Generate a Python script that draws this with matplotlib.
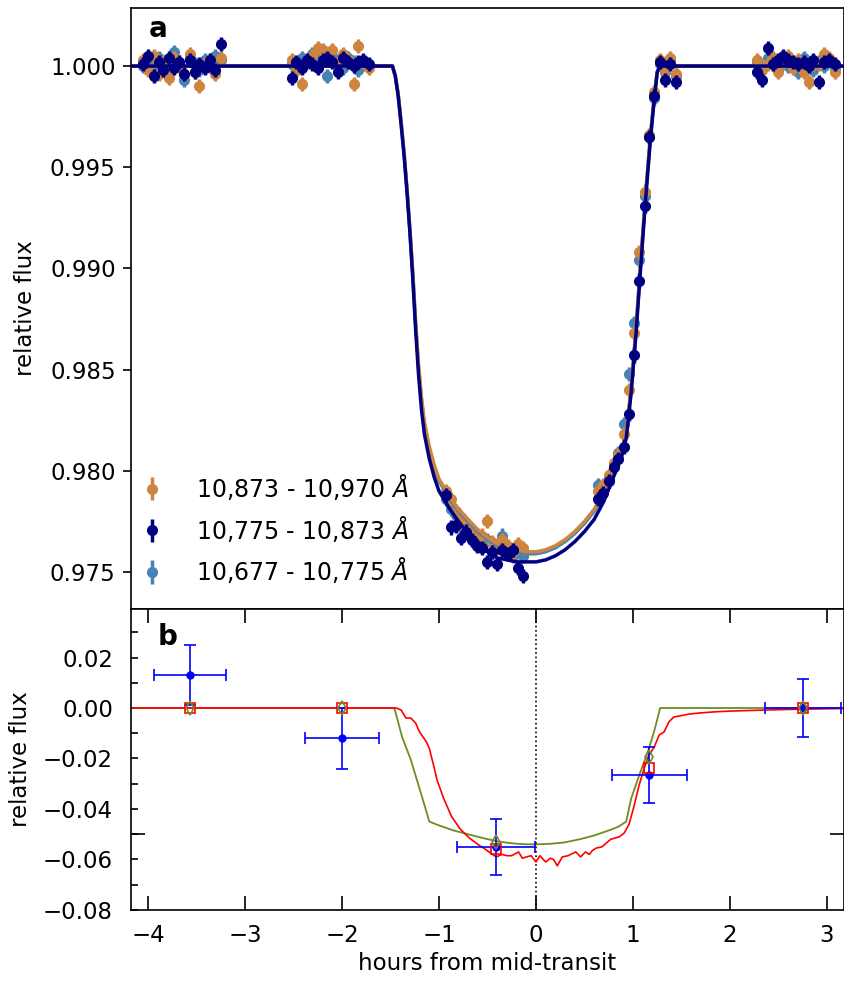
import numpy as np
import matplotlib.pyplot as plt

plt.rcParams['font.size'] = 16.5

# ---- panel a: spectroscopic light curves (5 HST orbits, 16 exposures each) ----
t_obs = [-4.05, -4.00, -3.94, -3.89, -3.84, -3.78, -3.73, -3.68, -3.63, -3.57, -3.52, -3.47, -3.41, -3.36, -3.31, -3.25,
         -2.52, -2.47, -2.41, -2.36, -2.31, -2.25, -2.20, -2.15, -2.10, -2.04, -1.99, -1.94, -1.88, -1.83, -1.78, -1.72,
         -0.93, -0.88, -0.82, -0.77, -0.72, -0.66, -0.61, -0.56, -0.51, -0.45, -0.40, -0.35, -0.29, -0.24, -0.19, -0.13,
         0.64, 0.69, 0.75, 0.80, 0.85, 0.91, 0.96, 1.01, 1.06, 1.12, 1.17, 1.22, 1.28, 1.33, 1.38, 1.44,
         2.28, 2.33, 2.39, 2.44, 2.49, 2.55, 2.60, 2.65, 2.70, 2.76, 2.81, 2.86, 2.92, 2.97, 3.02, 3.08]

flux_red = [1.0003, 0.9998, 1.0005, 0.9996, 1.0002, 0.9994, 1.0004, 1.0000, 0.9996, 1.0006, 0.9997, 0.9990, 1.0001, 1.0003, 0.9996, 1.0004,
            1.0003, 0.9998, 0.9991, 1.0002, 1.0005, 1.0009, 1.0008, 1.0004, 1.0008, 1.0001, 1.0006, 1.0003, 0.9991, 1.0010, 1.0002, 0.9999,
            0.9790, 0.9786, 0.9780, 0.9777, 0.9772, 0.9770, 0.9768, 0.9768, 0.9775, 0.9765, 0.9762, 0.9766, 0.9763, 0.9760, 0.9764, 0.9762,
            0.9790, 0.9793, 0.9798, 0.9804, 0.9808, 0.9818, 0.9840, 0.9868, 0.9908, 0.9938, 0.9966, 0.9987, 1.0003, 0.9998, 1.0004, 0.9996,
            1.0003, 0.9998, 1.0001, 1.0004, 0.9997, 1.0002, 1.0005, 0.9999, 1.0003, 0.9997, 0.9992, 1.0001, 1.0001, 1.0006, 1.0004, 0.9997]

flux_mid = [1.0001, 1.0005, 0.9995, 1.0002, 0.9998, 1.0004, 0.9999, 1.0002, 0.9996, 1.0003, 0.9997, 1.0001, 0.9999, 1.0003, 0.9998, 1.0011,
            0.9994, 1.0002, 0.9999, 1.0003, 1.0001, 0.9999, 1.0003, 1.0004, 1.0002, 0.9997, 1.0004, 1.0002, 1.0000, 1.0002, 1.0003, 1.0001,
            0.9788, 0.9772, 0.9773, 0.9767, 0.9770, 0.9766, 0.9763, 0.9762, 0.9755, 0.9760, 0.9754, 0.9761, 0.9759, 0.9761, 0.9752, 0.9748,
            0.9786, 0.9789, 0.9795, 0.9802, 0.9806, 0.9812, 0.9828, 0.9857, 0.9894, 0.9931, 0.9965, 0.9985, 1.0002, 0.9993, 1.0001, 0.9992,
            0.9997, 0.9993, 1.0009, 1.0001, 1.0003, 1.0005, 1.0003, 1.0002, 1.0001, 1.0002, 1.0000, 1.0003, 0.9992, 1.0002, 1.0003, 1.0001]

flux_blue = [1.0000, 1.0002, 0.9998, 1.0004, 1.0001, 0.9997, 1.0007, 1.0002, 0.9993, 1.0004, 1.0001, 0.9998, 1.0003, 1.0000, 1.0005, 1.0003,
             1.0001, 0.9998, 1.0004, 1.0002, 1.0006, 1.0003, 1.0003, 0.9995, 1.0005, 1.0002, 0.9999, 1.0004, 1.0002, 0.9998, 1.0001, 1.0000,
             0.9786, 0.9781, 0.9778, 0.9772, 0.9770, 0.9767, 0.9765, 0.9763, 0.9766, 0.9760, 0.9763, 0.9768, 0.9760, 0.9758, 0.9762, 0.9758,
             0.9793, 0.9791, 0.9796, 0.9803, 0.9809, 0.9823, 0.9848, 0.9873, 0.9904, 0.9936, 0.9965, 0.9984, 1.0001, 0.9997, 1.0003, 0.9995,
             1.0002, 0.9999, 1.0004, 1.0001, 0.9998, 1.0003, 1.0000, 1.0002, 0.9997, 1.0004, 1.0001, 0.9998, 1.0002, 1.0000, 1.0003, 0.9999]

flux_err = 0.00035

# best-fit transit models
t_model = [-4.18, -1.48, -1.45, -1.42, -1.39, -1.36, -1.33, -1.30, -1.27, -1.24, -1.21, -1.18, -1.15, -1.10, -1.05,
           -1.00, -0.90, -0.80, -0.70, -0.60, -0.50, -0.40, -0.30, -0.20, -0.10, 0.00, 0.10, 0.20, 0.30, 0.40,
           0.50, 0.60, 0.70, 0.80, 0.88, 0.93, 0.98, 1.03, 1.08, 1.13, 1.18, 1.22, 1.25, 1.28, 3.18]
model_mid = [1.0, 1.0, 0.9995, 0.9985, 0.9971, 0.9956, 0.9938, 0.9918, 0.9895, 0.9869, 0.9847, 0.9830, 0.9818, 0.9806, 0.9797,
             0.9790, 0.9782, 0.9775, 0.9769, 0.9764, 0.9760, 0.9757, 0.9756, 0.9755, 0.9755, 0.9755, 0.9756, 0.9758, 0.9761, 0.9765,
             0.9770, 0.9776, 0.9785, 0.9797, 0.9807, 0.9816, 0.9838, 0.9867, 0.9901, 0.9934, 0.9964, 0.9984, 0.9997, 1.0, 1.0]
model_red = [1.0, 1.0, 0.9995, 0.9986, 0.9972, 0.9957, 0.9940, 0.9920, 0.9898, 0.9873, 0.9852, 0.9836, 0.9824, 0.9812, 0.9803,
             0.9796, 0.9788, 0.9781, 0.9776, 0.9771, 0.9767, 0.9764, 0.9762, 0.9761, 0.9760, 0.9760, 0.9761, 0.9763, 0.9766, 0.9770,
             0.9775, 0.9781, 0.9790, 0.9801, 0.9810, 0.9819, 0.9841, 0.9870, 0.9904, 0.9937, 0.9966, 0.9985, 0.9997, 1.0, 1.0]
model_blue = [1.0, 1.0, 0.9995, 0.9986, 0.9972, 0.9957, 0.9939, 0.9919, 0.9897, 0.9872, 0.9851, 0.9835, 0.9823, 0.9811, 0.9802,
              0.9795, 0.9787, 0.9780, 0.9775, 0.9770, 0.9766, 0.9763, 0.9761, 0.9760, 0.9759, 0.9759, 0.9760, 0.9762, 0.9765, 0.9769,
              0.9774, 0.9780, 0.9789, 0.9800, 0.9809, 0.9818, 0.9840, 0.9869, 0.9903, 0.9936, 0.9965, 0.9985, 0.9997, 1.0, 1.0]

labels = ['10,873 - 10,970 $\\AA$', '10,775 - 10,873 $\\AA$', '10,677 - 10,775 $\\AA$']

# ---- panel b: excess absorption per orbit and models ----
orbit_t = [-3.57, -2.00, -0.41, 1.17, 2.75]
orbit_terr = [0.37, 0.385, 0.40, 0.39, 0.39]
obs_y = [0.013, -0.012, -0.055, -0.0265, 0.000]
obs_yerr = [0.012, 0.012, 0.011, 0.011, 0.0113]
binned_3d = [0.0, 0.0, -0.056, -0.0237, 0.0]
binned_1d = [0.0, 0.0, -0.053, -0.0195, 0.0]

t_3d = [-4.18, -1.44, -1.39, -1.34, -1.29, -1.24, -1.20, -1.13, -1.10, -1.06, -1.02, -0.95, -0.87, -0.78, -0.69,
        -0.60, -0.52, -0.46, -0.41, -0.35, -0.30, -0.25, -0.18, -0.14, -0.10, -0.05, 0.00, 0.04, 0.10, 0.15,
        0.18, 0.22, 0.27, 0.33, 0.41, 0.46, 0.51, 0.55, 0.58, 0.62, 0.68, 0.77, 0.86, 0.91, 0.96,
        1.01, 1.06, 1.11, 1.16, 1.22, 1.27, 1.32, 1.37, 1.42, 1.50, 1.58, 1.68, 1.85, 2.02, 2.37, 2.71, 3.18]
y_3d = [0.0, 0.0, -0.0008, -0.004, -0.004, -0.006, -0.0095, -0.0134, -0.016, -0.022, -0.0285, -0.036, -0.043, -0.048, -0.0514,
        -0.054, -0.056, -0.0577, -0.059, -0.058, -0.0585, -0.0585, -0.057, -0.0595, -0.059, -0.0585, -0.061, -0.0585, -0.061, -0.0595,
        -0.060, -0.0625, -0.059, -0.0585, -0.057, -0.059, -0.057, -0.058, -0.0565, -0.0555, -0.055, -0.052, -0.051, -0.0495, -0.046,
        -0.039, -0.031, -0.0245, -0.019, -0.0154, -0.0107, -0.0095, -0.0055, -0.0036, -0.003, -0.0024, -0.002, -0.0015, -0.0012, -0.0008, -0.0005, -0.0002]

t_1d = [-4.18, -1.46, -1.38, -1.29, -1.20, -1.13, -1.10, -1.00, -0.85, -0.70, -0.55, -0.40, -0.25, -0.10,
        0.00, 0.15, 0.30, 0.45, 0.60, 0.75, 0.85, 0.93, 0.98, 1.07, 1.16, 1.22, 1.28, 3.18]
y_1d = [0.0, 0.0, -0.0115, -0.0205, -0.032, -0.041, -0.045, -0.0465, -0.0485, -0.050, -0.0515, -0.0528, -0.0536, -0.054,
        -0.054, -0.0538, -0.0532, -0.052, -0.0505, -0.0485, -0.047, -0.045, -0.036, -0.026, -0.0166, -0.009, 0.0, 0.0]

fig = plt.figure(figsize=(8.45, 9.81), dpi=100)
ax1 = fig.add_axes([0.155, 0.3792, 0.8438, 0.6126])
ax2 = fig.add_axes([0.155, 0.0724, 0.8438, 0.3068], sharex=ax1)

ekw = dict(fmt='o', ms=7, elinewidth=2.5, capsize=0, yerr=flux_err)
h_blue = ax1.errorbar(t_obs, flux_blue, color='steelblue', zorder=2, **ekw)
h_red = ax1.errorbar(t_obs, flux_red, color='peru', zorder=2.2, **ekw)
ax1.plot(t_model, model_blue, color='steelblue', lw=2.5, zorder=2.4)
ax1.plot(t_model, model_red, color='peru', lw=2.5, zorder=2.5)
ax1.plot(t_model, model_mid, color='navy', lw=2.5, zorder=2.6)
h_mid = ax1.errorbar(t_obs, flux_mid, color='navy', zorder=3, **ekw)

ax1.legend([h_red, h_mid, h_blue], labels, loc='lower left', bbox_to_anchor=(-0.017, 0),
           frameon=False, fontsize=17, handlelength=0.8, handletextpad=1.46, borderaxespad=0.6)

ax1.set_xlim(-4.175, 3.175)
ax1.set_ylim(0.973172, 1.002866)
ax1.set_yticks([0.975, 0.980, 0.985, 0.990, 0.995, 1.000])
ax1.tick_params(axis='x', bottom=False, labelbottom=False)
ax1.tick_params(axis='y', direction='out', length=6, width=1.2, pad=5)
ax1.set_ylabel('relative flux', labelpad=9)
ax1.text(0.025, 0.9517, 'a', transform=ax1.transAxes, fontsize=20, fontweight='bold', va='baseline')

# panel b
ax2.plot(t_1d, y_1d, color='olivedrab', lw=1.3, zorder=2)
ax2.plot(t_3d, y_3d, color='red', lw=1.2, zorder=2)
ax2.axvline(0, color='k', ls=':', lw=1.2, zorder=1)
ax2.errorbar(orbit_t, obs_y, xerr=orbit_terr, yerr=obs_yerr, fmt='o', color='blue', ms=5,
             elinewidth=1.2, capsize=4, capthick=1.2, zorder=3)
ax2.plot(orbit_t, binned_3d, 's', ms=7, mfc='none', mec='red', mew=1.2, zorder=4)
ax2.plot(orbit_t, binned_1d, 'd', ms=7, mfc='none', mec='olivedrab', mew=1.2, zorder=5)

ax2.set_ylim(-0.08, 0.03921)
ax2.set_xticks([-4, -3, -2, -1, 0, 1, 2, 3])
ax2.tick_params(axis='x', direction='in', length=10, width=1.2, top=True, pad=10)
ax2.set_yticks([-0.05, 0.0], labels=['', ''])
ax2.yaxis.remove_overlapping_locs = False
minor_pos = [0.03, 0.02, 0.01, 0.0, -0.01, -0.02, -0.03, -0.04, -0.05, -0.06, -0.07, -0.08]
minor_lab = ['', '0.02', '', '0.00', '', '\u22120.02', '', '\u22120.04', '', '\u22120.06', '', '\u22120.08']
ax2.set_yticks(minor_pos, labels=minor_lab, minor=True)
ax2.tick_params(axis='y', which='major', direction='in', length=10, width=1.2, left=True, right=True)
ax2.tick_params(axis='y', which='minor', direction='in', length=5, width=1.2, left=True, right=False, pad=13)
ax2.set_ylabel('relative flux', labelpad=7.5)
ax2.set_xlabel('hours from mid-transit')
ax2.text(0.038, 0.880, 'b', transform=ax2.transAxes, fontsize=20, fontweight='bold', va='baseline')

for ax in (ax1, ax2):
    for s in ax.spines.values():
        s.set_linewidth(1.2)

fig.savefig('out.png', dpi=100)
